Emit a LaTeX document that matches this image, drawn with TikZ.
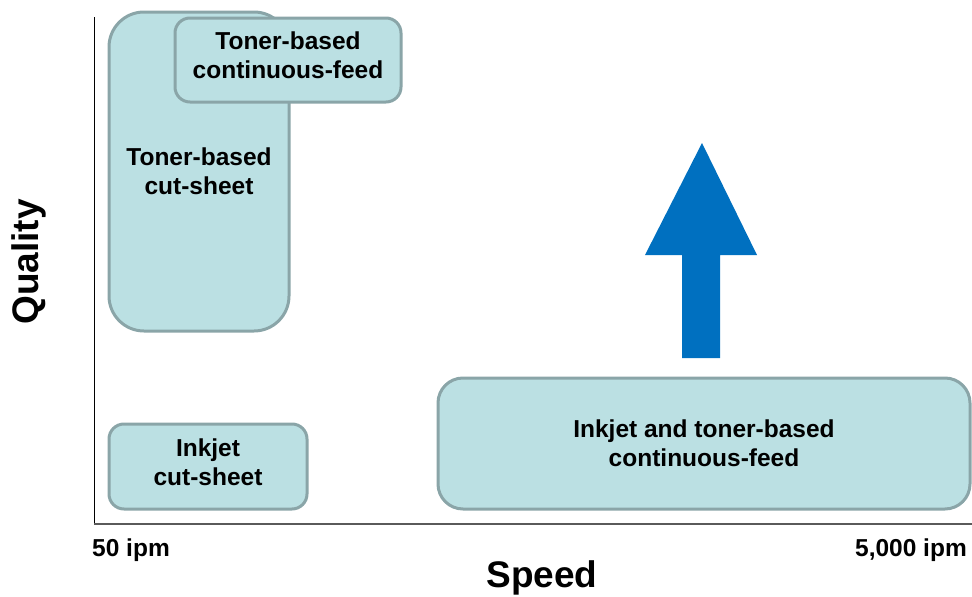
\documentclass[tikz,border=0pt]{standalone}
\usepackage{fontspec}
\setmainfont{Liberation Sans}
\definecolor{boxfill}{HTML}{BBE0E3}
\definecolor{boxline}{HTML}{8AA5A8}
\definecolor{arrowblue}{HTML}{0070C0}
\definecolor{axisgray}{HTML}{5A5A5A}
\tikzset{
  region/.style={draw=boxline, fill=boxfill, line width=3pt, rectangle, inner sep=0pt},
  regiontext/.style={align=center, font=\fontsize{24.5}{29}\selectfont\bfseries, inner sep=0pt},
  axislabel/.style={font=\fontsize{37}{40}\selectfont\bfseries, inner sep=0pt},
  ticklabel/.style={font=\fontsize{24.5}{29}\selectfont\bfseries, inner sep=0pt}
}
\begin{document}
\begin{tikzpicture}[x=1pt,y=-1pt]
\useasboundingbox (0,0) rectangle (972,597);
% axes
\coordinate (ytop) at (94,17);
\coordinate (origin) at (94,524);
\coordinate (xend) at (972,524);
\draw[black, line width=1pt] (ytop) -- (origin);
\draw[axisgray, line width=2pt] (origin) -- (xend);
% regions
\node[region, rounded corners=35pt, minimum width=180pt, minimum height=319pt] (tcs) at (199,171.5) {};
\node[regiontext] (tcs-t) at (tcs.center) {Toner-based\\cut-sheet};
\node[region, rounded corners=15pt, minimum width=226pt, minimum height=84pt] (tcf) at (288,60) {};
\node[regiontext] (tcf-t) at ([yshift=4.5pt]tcf.center) {Toner-based\\continuous-feed};
\node[region, rounded corners=15pt, minimum width=198pt, minimum height=85pt] (ics) at (208,466.5) {};
\node[regiontext] (ics-t) at ([yshift=4.5pt]ics.center) {Inkjet\\cut-sheet};
\node[region, rounded corners=25pt, minimum width=532pt, minimum height=131pt] (icf) at (704,443.5) {};
\node[regiontext] (icf-t) at (icf.center) {Inkjet and toner-based\\continuous-feed};
% arrow
\fill[arrowblue] (682,358) -- (720,358) -- (720,255) -- (757,255) -- (702,143) -- (645,255) -- (682,255) -- cycle;
% labels
\node[axislabel, rotate=90] (quality) at (29,262) {Quality};
\node[axislabel] (speed) at (542,578) {Speed};
\node[ticklabel, anchor=west] (low) at (92,550) {50 ipm};
\node[ticklabel, anchor=east] (high) at (967,550) {5,000 ipm};
\end{tikzpicture}
\end{document}
